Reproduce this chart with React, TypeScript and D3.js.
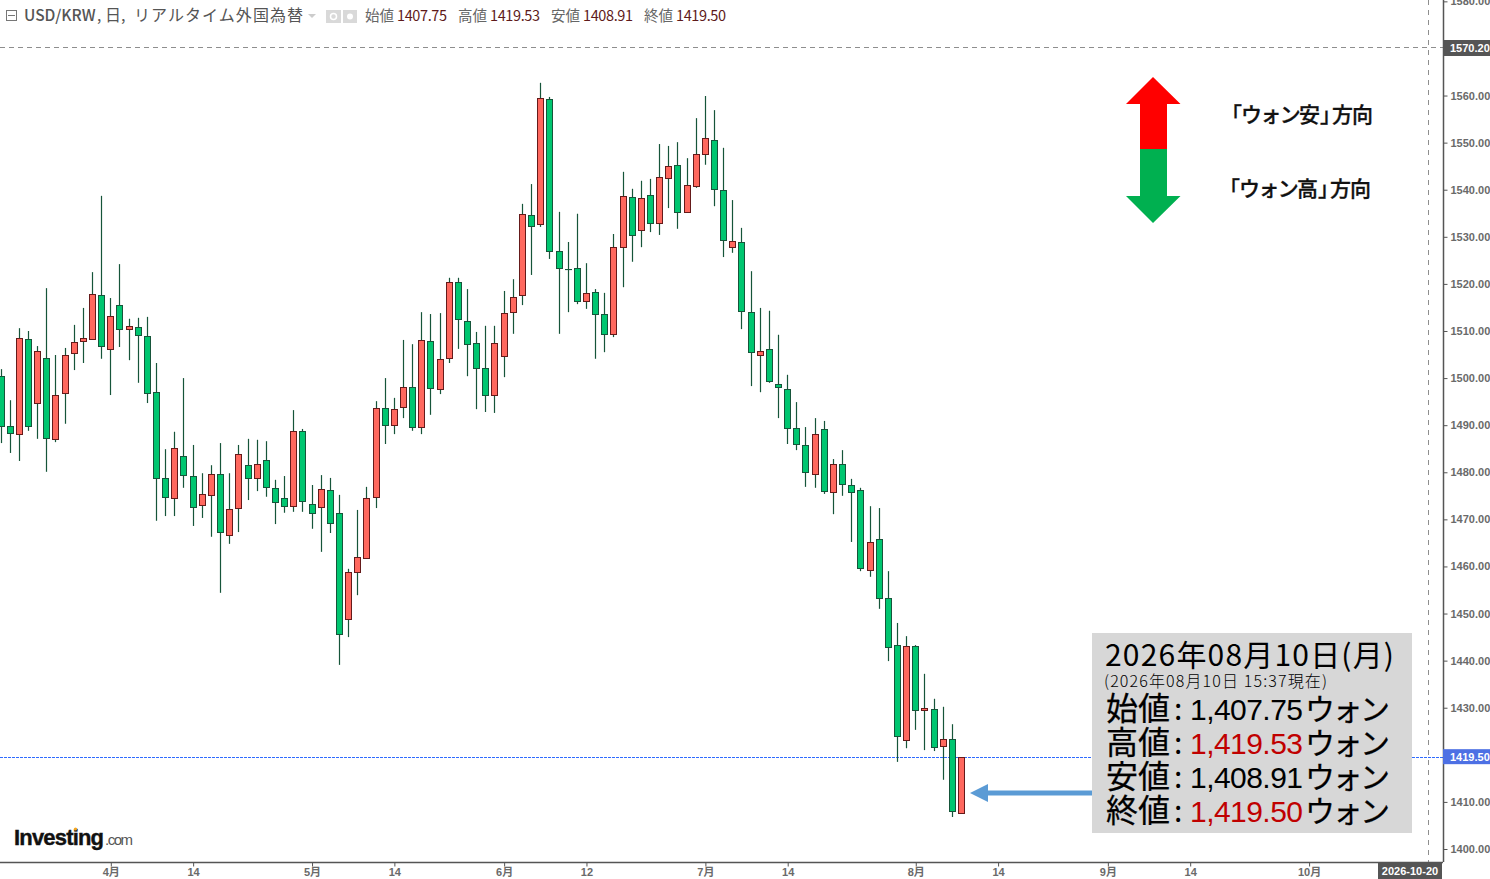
import React, { useEffect, useRef } from 'react';
import * as d3 from 'd3';

// daily bars, first one is index -12 (4月 tick is index 0)
const firstIndex = -12;
const opens = [
  1500.4,1489.8,1488.1,1508.3,1494.7,1504.3,1487.1,1496.8,1505.3,1507.9,1508.3,1517.6,
  1506.2,1515.5,1510.4,1510.9,1508.9,1497.0,1478.8,1474.5,1483.5,1479.2,
  1473.1,1475.2,1479.6,1466.7,1472.4,1481.5,1478.8,1482.6,1476.7,1474.5,
  1472.8,1488.8,1473.3,1472.6,1476.2,1471.4,1448.8,1458.8,1461.8,1474.8,
  1493.7,1490.0,1493.9,1498.1,1489.6,1507.9,1497.7,1504.3,1520.4,1512.1,
  1507.5,1502.1,1496.4,1504.7,1514.0,1517.6,1534.6,1532.7,1559.3,1527.0,
  1523.2,1523.4,1516.4,1518.3,1513.6,1509.4,1527.8,1538.5,1531.5,1538.9,
  1532.9,1542.5,1545.3,1535.3,1540.8,1547.6,1550.6,1539.9,1527.8,1528.9,
  1514.0,1504.9,1506.2,1498.7,1497.7,1489.4,1485.8,1479.6,1489.2,1475.8,
  1481.8,1477.3,1476.2,1459.2,1465.8,1453.3,1443.3,1423.1,1443.1,1429.5,
  1429.7,1421.9,1423.4,1407.75,
];
const highs = [
  1501.9,1495.3,1510.6,1510.0,1506.8,1519.1,1504.9,1506.4,1511.3,1514.9,1522.5,1538.7,
  1517.0,1524.2,1512.6,1512.8,1513.0,1503.2,1484.9,1488.6,1500.0,1485.8,
  1479.8,1481.5,1486.2,1479.8,1485.8,1487.1,1486.9,1486.6,1478.4,1479.2,
  1493.2,1489.2,1477.3,1479.4,1478.8,1475.2,1459.5,1472.0,1476.9,1495.1,
  1500.0,1495.8,1508.1,1507.2,1514.0,1513.6,1513.8,1521.3,1521.3,1518.9,
  1509.8,1511.1,1511.1,1518.5,1521.0,1537.0,1541.2,1562.7,1559.7,1535.3,
  1528.9,1534.9,1524.4,1518.9,1518.1,1530.6,1543.8,1540.2,1541.9,1542.3,
  1549.7,1549.3,1550.1,1546.7,1555.2,1559.9,1556.9,1548.9,1537.8,1531.9,
  1522.7,1514.9,1514.3,1509.2,1500.7,1494.9,1489.6,1491.5,1490.9,1482.8,
  1484.7,1478.6,1476.7,1472.8,1472.4,1459.0,1448.0,1445.2,1443.3,1437.2,
  1431.9,1430.2,1426.5,1419.53,
];
const lows = [
  1486.2,1484.1,1482.4,1488.8,1487.1,1480.1,1486.4,1490.3,1501.7,1503.2,1508.3,1504.1,
  1496.4,1506.6,1503.8,1499.0,1494.7,1469.7,1470.7,1470.7,1476.7,1468.6,
  1470.3,1466.3,1454.4,1464.8,1467.3,1474.1,1476.0,1474.8,1469.0,1471.4,
  1471.6,1471.6,1468.0,1463.1,1467.1,1439.1,1445.0,1453.9,1461.6,1472.4,
  1486.0,1488.1,1491.5,1488.8,1488.1,1492.2,1496.6,1503.2,1506.2,1500.4,
  1493.4,1492.8,1492.6,1500.2,1509.4,1515.5,1521.9,1532.1,1525.3,1509.4,
  1514.0,1515.7,1514.7,1504.1,1505.5,1508.7,1519.3,1524.7,1527.8,1531.0,
  1530.4,1536.1,1531.7,1535.1,1540.4,1545.3,1536.5,1525.7,1526.6,1510.4,
  1498.3,1497.0,1499.0,1491.5,1486.0,1484.7,1476.9,1476.7,1475.4,1471.1,
  1475.0,1465.2,1459.0,1457.8,1451.0,1439.9,1418.5,1421.4,1425.3,1421.0,
  1420.8,1414.7,1406.8,1407.75,
];
const closes = [
  1489.8,1488.3,1508.5,1489.8,1505.8,1487.3,1496.4,1504.9,1507.7,1508.5,1517.9,1506.8,
  1513.2,1510.4,1511.1,1509.2,1496.8,1478.8,1474.8,1485.2,1479.4,1472.6,
  1475.4,1479.6,1467.3,1472.2,1483.9,1478.8,1481.8,1476.9,1473.7,1472.8,
  1488.8,1473.9,1471.4,1476.4,1469.2,1445.7,1458.8,1462.0,1474.5,1493.7,
  1490.0,1493.4,1498.1,1489.6,1508.1,1497.9,1504.1,1520.4,1512.6,1507.2,
  1502.1,1496.4,1507.5,1513.8,1517.2,1534.9,1532.3,1559.5,1527.0,1523.4,
  1523.2,1516.4,1518.1,1513.6,1509.4,1527.8,1538.7,1530.4,1538.2,1532.9,
  1542.7,1545.0,1535.3,1541.0,1547.6,1551.0,1540.2,1529.3,1529.1,1514.3,
  1505.5,1505.8,1499.4,1498.1,1489.4,1486.0,1480.1,1488.1,1476.0,1481.8,
  1477.5,1475.8,1459.7,1465.2,1453.3,1442.9,1424.0,1443.1,1429.5,1429.9,
  1421.7,1423.4,1408.1,1419.5,
];

const priceTicks = d3.range(1400, 1590, 10);
const dateTickIndex = [0, 9, 22, 31, 43, 52, 65, 74, 88, 97, 109, 118, 131];
const dateTickLabels = ['4月', '14', '5月', '14', '6月', '12', '7月', '14', '8月', '14', '9月', '14', '10月'];

const crosshairPrice = 1570.2;
const crosshairIndex = 144;
const crosshairDate = '2026-10-20';
const lastPrice = 1419.5;

const headerValues = [
  { label: '始値', value: '1407.75', lx: 365, vx: 397 },
  { label: '高値', value: '1419.53', lx: 458, vx: 490 },
  { label: '安値', value: '1408.91', lx: 551, vx: 583 },
  { label: '終値', value: '1419.50', lx: 644, vx: 676 },
];
const boxRows = [
  { label: '始値', value: '1,407.75', color: '#000' },
  { label: '高値', value: '1,419.53', color: '#c00000' },
  { label: '安値', value: '1,408.91', color: '#000' },
  { label: '終値', value: '1,419.50', color: '#c00000' },
];

const jp = '"Noto Sans CJK JP", sans-serif';
const latin = '"Liberation Sans", "Noto Sans CJK JP", sans-serif';

const App = () => {
  const ref = useRef<SVGSVGElement>(null);

  useEffect(() => {
    const svg = d3.select(ref.current);
    svg.selectAll('*').remove();
    const right = 1443;
    const bottom = 862;

    const x = d3.scaleLinear().domain([0, 93]).range([110.8, 961.5]);
    const y = d3.scaleLinear().domain([1400, crosshairPrice]).range([849, 47.5]);
    const px = (i: number) => Math.floor(x(i)) + 0.5;

    // guides
    svg.append('line').attr('x1', 0).attr('x2', right).attr('y1', y(crosshairPrice)).attr('y2', y(crosshairPrice))
      .attr('stroke', '#8e8e8e').attr('stroke-dasharray', '5,4');
    svg.append('line').attr('x1', px(crosshairIndex)).attr('x2', px(crosshairIndex)).attr('y1', 0).attr('y2', bottom)
      .attr('stroke', '#8e8e8e').attr('stroke-dasharray', '5,5');
    svg.append('line').attr('x1', 0).attr('x2', right).attr('y1', Math.floor(y(lastPrice)) + 0.5).attr('y2', Math.floor(y(lastPrice)) + 0.5)
      .style('stroke', '#2f6bff').style('stroke-dasharray', '3,1');

    // candles
    const bars = d3.range(opens.length).map((k) => ({
      i: k + firstIndex, o: opens[k], h: highs[k], l: lows[k], c: closes[k],
    }));
    const g = svg.append('g');
    g.selectAll('line.wick').data(bars).enter().append('line').attr('class', 'wick')
      .attr('x1', (d) => px(d.i)).attr('x2', (d) => px(d.i))
      .attr('y1', (d) => y(d.h)).attr('y2', (d) => y(d.l))
      .attr('stroke', '#16553a').attr('stroke-width', 1.2);
    g.selectAll('rect').data(bars).enter().append('rect')
      .attr('x', (d) => px(d.i) - 3).attr('width', 6)
      .attr('y', (d) => Math.round(y(Math.max(d.o, d.c))) + 0.5)
      .attr('height', (d) => Math.max(Math.round(y(Math.min(d.o, d.c))) - Math.round(y(Math.max(d.o, d.c))), 0.1))
      .attr('fill', (d) => (d.c > d.o ? '#ff685e' : '#00c670'))
      .attr('stroke', (d) => (d.c > d.o ? '#651a1a' : '#16553a'))
      .attr('stroke-width', 1);

    // axes
    const yAxis = d3.axisRight(y).tickValues(priceTicks).tickSize(4).tickPadding(3).tickFormat((d) => (d as number).toFixed(2));
    const ya = svg.append('g').attr('transform', `translate(${right + 0.5},0)`).call(yAxis);
    ya.select('.domain').attr('d', `M0,0V${bottom}`);
    const xAxis = d3.axisBottom(x).tickValues(dateTickIndex).tickSize(4).tickPadding(2)
      .tickFormat((d) => dateTickLabels[dateTickIndex.indexOf(d as number)]);
    const xa = svg.append('g').attr('transform', `translate(0,${bottom + 0.5})`).call(xAxis);
    xa.select('.domain').attr('d', `M0,0H${right}`);
    [ya, xa].forEach((a) => {
      a.select('.domain').attr('stroke', '#555').attr('stroke-width', 1.5).attr('fill', 'none');
      a.selectAll('.tick line').attr('stroke', '#555');
      a.selectAll('.tick text').attr('fill', '#6a6a6a').attr('font-size', 11).attr('font-weight', 'bold').attr('font-family', latin);
    });

    // axis tags
    const tag = (tx: number, ty: number, w: number, h: number, fill: string, label: string, lx: number, anchor = 'start') => {
      svg.append('rect').attr('x', tx).attr('y', ty).attr('width', w).attr('height', h).attr('fill', fill);
      svg.append('text').attr('x', lx).attr('y', ty + h / 2 + 4).attr('text-anchor', anchor)
        .attr('fill', '#fff').attr('font-size', 11).attr('font-weight', 'bold').attr('font-family', latin).text(label);
    };
    tag(right, y(crosshairPrice) - 7.5, 47, 16, '#555', crosshairPrice.toFixed(2), 1450);
    tag(right, y(lastPrice) - 8, 47, 15, '#4d70e4', lastPrice.toFixed(2), 1450);
    tag(1378, bottom, 64, 17, '#555', crosshairDate, 1410, 'middle');

    // header
    const head = svg.append('g').attr('font-family', jp);
    head.append('rect').attr('x', 6.5).attr('y', 10.5).attr('width', 10).attr('height', 10).attr('fill', 'none').attr('stroke', '#777');
    head.append('line').attr('x1', 8).attr('x2', 15).attr('y1', 15.5).attr('y2', 15.5).attr('stroke', '#777');
    head.append('text').attr('x', 24).attr('y', 21).attr('font-size', 15.5).attr('font-weight', 500).attr('fill', '#555').text('USD/KRW');
    head.append('text').attr('x', 97).attr('y', 21).attr('font-size', 15.5).attr('fill', '#555').text(',');
    head.append('text').attr('x', 105).attr('y', 21).attr('font-size', 16).attr('fill', '#555').text('日,');
    head.append('text').attr('x', 134).attr('y', 21).attr('font-size', 16).attr('fill', '#555')
      .attr('textLength', 169).text('リアルタイム外国為替');
    head.append('path').attr('d', 'M308,14h8l-4,4z').attr('fill', '#ccc');
    head.append('rect').attr('x', 326).attr('y', 10).attr('width', 15).attr('height', 13).attr('fill', '#d9d9d9');
    head.append('rect').attr('x', 343).attr('y', 10).attr('width', 14).attr('height', 13).attr('fill', '#d9d9d9');
    head.append('circle').attr('cx', 333.5).attr('cy', 16.5).attr('r', 3).attr('fill', 'none').attr('stroke', '#fff').attr('stroke-width', 1.5);
    head.append('circle').attr('cx', 350).attr('cy', 16.5).attr('r', 3).attr('fill', '#fff');
    headerValues.forEach((h) => {
      head.append('text').attr('x', h.lx).attr('y', 21).attr('font-size', 14.5).attr('fill', '#666').text(h.label);
      head.append('text').attr('x', h.vx).attr('y', 21).attr('font-size', 14.5).attr('fill', '#5e1a1a').attr('textLength', 50).text(h.value);
    });

    // direction arrows
    svg.append('path').attr('d', 'M1153,77L1180.5,104H1167V149H1140V104H1126Z').attr('fill', '#ff0000');
    svg.append('path').attr('d', 'M1153,223L1180.5,196H1167V149H1140V196H1126Z').attr('fill', '#00b050');
    const dirLabel = (word: string, base: number, dx: number) => {
      const t = svg.append('g').attr('font-family', jp).attr('font-size', 21).attr('font-weight', 500)
        .attr('fill', '#111').attr('stroke', '#111').attr('stroke-width', 0.3);
      t.append('text').attr('x', 1221 + dx).attr('y', base).style('text-spacing-trim', 'space-all').text('「');
      t.append('text').attr('x', 1241 + dx).attr('y', base).attr('textLength', 79).text(word);
      t.append('text').attr('x', 1320 + dx).attr('y', base).style('text-spacing-trim', 'space-all').text('」');
      t.append('text').attr('x', 1332 + dx).attr('y', base).attr('textLength', 41).text('方向');
    };
    dirLabel('ウォン安', 122, 0);
    dirLabel('ウォン高', 196, -2);

    // summary box
    svg.append('path').attr('d', 'M1092,790.5V795.5H988V802L970,793L988,784V790.5Z').attr('fill', '#5b9bd5');
    svg.append('rect').attr('x', 1092).attr('y', 633).attr('width', 320).attr('height', 200).attr('fill', '#d7d7d7');
    const box = svg.append('g').attr('font-family', jp).attr('fill', '#000');
    box.append('text').attr('x', 1105).attr('y', 666).attr('font-size', 30).attr('textLength', 289).text('2026年08月10日(月)');
    box.append('text').attr('x', 1104).attr('y', 687).attr('font-size', 16).attr('textLength', 223).attr('font-weight', 300).text('(2026年08月10日 15:37現在)');
    boxRows.forEach((r, k) => {
      const base = 720 + k * 34;
      box.append('text').attr('x', 1106).attr('y', base).attr('font-size', 32).attr('stroke', '#000').attr('stroke-width', 0.25).attr('textLength', 64).text(r.label);
      box.append('text').attr('x', 1174).attr('y', base).attr('font-size', 30).text(':');
      box.append('text').attr('x', 1190).attr('y', base).attr('font-size', 30).attr('fill', r.color).attr('textLength', 113)
        .attr('font-family', latin).text(r.value);
      box.append('text').attr('x', 1305).attr('y', base).attr('font-size', 30).attr('stroke', '#000').attr('stroke-width', 0.25).attr('textLength', 85).text('ウォン');
    });

    // logo
    svg.append('text').attr('x', 14).attr('y', 845).attr('font-family', latin).attr('font-size', 22).attr('font-weight', 'bold')
      .attr('fill', '#111').attr('stroke', '#111').attr('stroke-width', 0.4).attr('textLength', 90).text('Investing');
    svg.append('text').attr('x', 105).attr('y', 845).attr('font-family', latin).attr('font-size', 15).attr('fill', '#555')
      .attr('textLength', 28).text('.com');
    svg.append('circle').attr('cx', 75.5).attr('cy', 829).attr('r', 1.6).attr('fill', '#f5a623');
  }, []);

  return <svg ref={ref} width={1490} height={879} style={{ position: 'absolute', left: 0, top: 0, background: '#fff' }} />;
};

export default App;
